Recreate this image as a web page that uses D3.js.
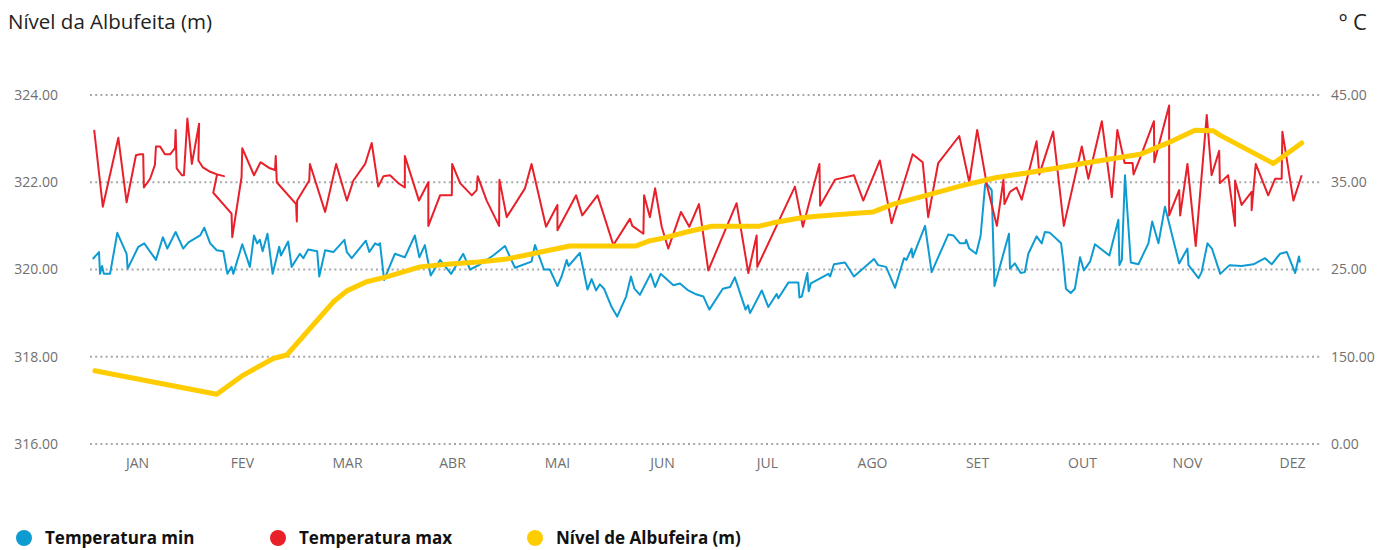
<!DOCTYPE html>
<html>
<head>
<meta charset="utf-8">
<script src="https://cdn.jsdelivr.net/npm/d3@7"></script>
<style>
  html, body { margin: 0; padding: 0; background: #fff; }
  svg { display: block; }
  text { font-family: "Open Sans", Lato, sans-serif; }
</style>
</head>
<body>
<div id="chart"></div>
<script>
// ---------- DATA ----------
const months = ["JAN","FEV","MAR","ABR","MAI","JUN","JUL","AGO","SET","OUT","NOV","DEZ"];
const leftTicks = [316, 318, 320, 322, 324];
const leftTickLabels = ["316.00","318.00","320.00","322.00","324.00"];
const rightTicks = [5, 15, 25, 35, 45];
const rightTickLabels = ["0.00","150.00","25.00","35.00","45.00"];

// Temperatura max: [day of year, °C]
const tempMax = [
[2.8,41.0],[5.3,32.2],[9.8,40.1],[12.2,32.7],[14.9,38.1],[16.1,38.2],[17.0,38.2],[17.2,34.4],[19.0,35.4],[20.4,37.0],
[20.7,39.1],[21.9,39.1],[23.3,38.2],[24.8,38.2],[26.2,38.9],[26.4,41.0],[26.7,36.6],[28.2,35.8],[28.8,35.8],[29.8,42.3],
[31.1,37.1],[33.2,41.7],[33.0,37.5],[34.3,36.7],[36.4,36.2],[38.4,35.9],[40.4,35.7],[38.4,35.9],[37.3,33.8],[42.6,31.4],
[42.8,28.7],[45.5,35.6],[45.7,38.9],[49.1,35.8],[51.0,37.3],[53.7,36.6],[55.2,36.4],[55.4,38.0],[55.7,35.0],[61.3,32.5],
[61.5,30.5],[61.6,32.9],[65.1,35.2],[65.3,37.1],[69.7,31.6],[72.9,37.1],[76.0,32.9],[77.9,35.2],[81.3,37.1],[83.2,39.5],
[85.1,34.5],[86.6,35.7],[88.5,35.8],[90.9,34.9],[92.8,34.4],[92.8,38.0],[96.9,32.9],[99.6,35.0],[99.6,30.0],[103.0,33.5],
[106.4,33.5],[106.5,37.1],[108.8,34.9],[112.2,33.5],[113.6,34.1],[113.9,35.7],[116.5,32.9],[120.1,30.0],[120.2,35.3],[122.3,31.0],
[127.6,34.3],[129.5,37.1],[133.7,29.9],[137.0,32.4],[137.0,29.5],[142.4,33.5],[144.2,31.2],[148.6,33.5],[153.2,27.8],[158.0,30.8],
[158.7,30.0],[161.9,29.1],[162.1,33.5],[163.8,31.0],[165.3,34.3],[167.2,29.9],[169.1,27.4],[172.8,31.6],[175.2,29.9],[178.0,32.5],
[180.7,24.9],[188.9,32.6],[192.3,24.6],[194.7,28.9],[194.9,25.3],[205.8,34.5],[208.1,29.9],[212.9,37.1],[213.1,32.3],[217.4,35.3],
[222.9,35.8],[225.6,32.9],[230.4,37.5],[233.8,30.3],[239.9,38.2],[242.8,37.3],[244.4,31.0],[247.3,37.2],[253.4,40.3],[256.3,35.0],
[258.6,41.0],[261.5,34.5],[264.3,30.0],[266.2,35.3],[266.5,32.5],[268.1,33.9],[270.0,34.4],[271.5,33.0],[275.8,39.7],[276.6,35.9],
[280.6,40.8],[283.7,30.0],[288.9,39.1],[290.8,35.4],[294.7,42.0],[297.6,33.3],[299.2,41.0],[301.3,37.2],[303.6,37.2],[303.9,35.9],
[305.8,37.8],[309.8,42.0],[309.9,37.3],[314.2,43.8],[314.2,31.2],[317.1,34.1],[317.4,31.2],[319.5,37.1],[321.9,27.7],[325.1,42.7],
[326.5,35.8],[328.7,38.6],[328.9,34.9],[331.3,35.8],[333.3,30.0],[333.3,35.2],[335.2,32.4],[338.1,33.9],[338.1,31.8],[339.3,37.1],
[342.9,33.5],[344.9,35.4],[346.8,35.4],[347.0,40.8],[350.2,32.9],[352.6,35.8]
];

// Temperatura min: [day of year, °C]
const tempMin = [
[2.4,26.2],[4.2,27.0],[4.5,24.5],[5.1,25.4],[5.6,24.5],[7.4,24.5],[9.5,29.2],[12.2,26.8],[12.5,25.1],[15.6,27.6],
[17.3,28.0],[20.7,26.1],[22.7,28.7],[24.0,27.4],[26.4,29.3],[28.6,27.4],[30.1,28.1],[33.5,28.9],[34.7,29.8],[36.4,28.0],
[38.3,27.2],[40.2,27.1],[41.4,24.5],[42.6,25.3],[43.1,24.5],[45.7,27.9],[47.9,25.3],[49.1,28.9],[50.0,28.0],[50.8,28.4],
[51.6,27.1],[53.0,29.1],[54.5,24.5],[56.4,27.6],[56.9,26.6],[59.0,28.2],[60.0,25.3],[62.4,26.8],[63.4,26.3],[64.8,27.3],
[67.4,27.1],[68.0,24.2],[69.7,27.2],[72.1,27.0],[75.3,28.4],[76.0,27.0],[77.4,26.3],[81.5,28.3],[82.5,27.0],[84.2,28.0],
[85.1,27.8],[85.6,28.0],[86.8,23.8],[89.9,26.8],[92.8,26.4],[95.7,28.9],[97.0,26.4],[98.6,27.8],[100.3,24.3],[103.0,26.1],
[106.2,24.5],[109.7,26.8],[111.7,25.0],[114.6,25.6],[118.4,26.6],[121.8,27.7],[124.7,25.2],[129.5,25.9],[130.5,27.8],[133.1,25.0],
[134.8,25.0],[137.0,23.1],[138.2,24.2],[139.7,26.1],[140.2,25.4],[143.5,26.9],[145.7,22.7],[146.9,23.9],[148.2,22.6],[149.3,23.3],
[150.5,22.8],[152.7,20.7],[154.3,19.6],[156.9,21.9],[158.3,24.2],[159.3,22.8],[160.9,22.1],[164.0,24.5],[165.3,23.0],[166.9,24.5],
[170.6,23.2],[172.5,23.4],[174.9,22.6],[176.9,22.2],[179.3,21.9],[181.0,20.4],[184.9,22.8],[187.0,23.0],[188.4,24.1],[191.5,20.4],
[192.2,20.9],[192.8,20.0],[196.2,22.6],[198.1,20.7],[200.5,22.2],[201.0,21.7],[203.9,23.5],[206.8,23.5],[207.1,21.8],[207.8,21.9],
[209.4,24.6],[209.8,22.5],[210.4,23.4],[215.5,24.5],[216.0,24.2],[217.1,25.6],[220.3,25.8],[222.9,24.2],[228.7,26.2],[229.9,25.5],
[232.2,25.3],[234.8,22.9],[237.4,26.3],[238.1,26.1],[239.6,27.4],[239.9,26.4],[243.5,30.0],[245.4,24.7],[250.2,29.0],[251.7,28.9],
[253.6,28.0],[255.1,28.0],[255.4,28.4],[256.3,27.4],[258.3,26.8],[259.6,28.9],[260.9,34.7],[261.2,34.9],[262.8,34.1],[263.6,23.1],
[267.8,29.1],[268.1,25.1],[269.5,25.7],[271.2,24.6],[272.4,24.7],[273.4,26.8],[275.8,28.8],[277.3,28.0],[278.2,29.3],[279.7,29.2],
[282.9,28.0],[283.5,26.1],[284.3,22.8],[285.7,22.3],[286.9,22.8],[288.4,26.4],[289.5,24.9],[291.3,25.9],[292.7,27.9],[296.9,26.6],
[299.5,30.7],[299.8,25.5],[300.5,26.1],[301.4,35.8],[303.1,25.8],[305.3,25.6],[308.2,28.0],[309.3,30.5],[311.1,28.0],[313.0,32.2],
[317.1,25.7],[319.5,27.4],[319.8,25.5],[322.7,24.0],[323.6,24.7],[325.3,28.0],[326.6,27.4],[329.0,24.5],[331.7,25.5],[335.2,25.4],
[338.6,25.6],[342.0,26.3],[343.9,25.6],[346.3,26.8],[348.3,27.0],[350.7,24.6],[351.8,26.5],[352.1,25.8]
];

// Nível de Albufeira: [day of year, m]
const nivel = [
[3.0,317.68],[38.3,317.14],[46.0,317.58],[54.7,317.96],[58.6,318.04],[72.1,319.26],[76.0,319.51],[81.7,319.72],[87.5,319.83],
[97.2,320.06],[104.9,320.12],[114.1,320.17],[122.3,320.24],[129.1,320.35],[140.6,320.54],[159.8,320.54],[163.8,320.66],[167.7,320.72],
[174.4,320.86],[181.7,320.99],[195.2,320.99],[199.5,321.07],[207.3,321.18],[212.1,321.22],[228.5,321.32],[234.3,321.50],[243.9,321.70],
[253.6,321.91],[264.2,322.11],[272.9,322.21],[282.6,322.34],[292.2,322.47],[305.8,322.64],[313.5,322.89],[321.7,323.19],[327.0,323.18],
[328.9,323.08],[344.4,322.43],[352.6,322.90]
];

const legendItems = [
  {label: "Temperatura min", color: "#0e9bd2"},
  {label: "Temperatura max", color: "#e8202a"},
  {label: "Nível de Albufeira (m)", color: "#ffcc00"}
];

// ---------- CHART ----------
const W = 1378, H = 550;
const svg = d3.select("#chart").append("svg").attr("width", W).attr("height", H);

const gridX0 = 90, gridX1 = 1320;
const x = d3.scaleLinear().domain([0, 365]).range([84.5, 1344.5]);
const yL = d3.scaleLinear().domain([316, 324]).range([444, 95]);
const yR = d3.scaleLinear().domain([5, 45]).range([444, 95]);
const axisFont = "'Open Sans', Lato, sans-serif";

// gridlines
svg.append("g").selectAll("line").data(leftTicks).join("line")
  .attr("x1", gridX0).attr("x2", gridX1)
  .attr("y1", d => yL(d)).attr("y2", d => yL(d))
  .attr("stroke", "#a9a9a9").attr("stroke-width", 2)
  .attr("stroke-dasharray", "2,3.2");

// left axis labels
const leftAxis = d3.axisLeft(yL).tickValues(leftTicks)
  .tickFormat((d, i) => leftTickLabels[i]).tickSize(0).tickPadding(0);
const gl = svg.append("g").attr("transform", "translate(58,0)").call(leftAxis);
gl.select(".domain").remove();
gl.selectAll("text").attr("fill", "#707070").style("font-size", "14px")
  .style("font-family", axisFont);

// right axis labels
const rightAxis = d3.axisRight(yR).tickValues(rightTicks)
  .tickFormat((d, i) => rightTickLabels[i]).tickSize(0).tickPadding(0);
const gr = svg.append("g").attr("transform", "translate(1331,0)").call(rightAxis);
gr.select(".domain").remove();
gr.selectAll("text").attr("fill", "#707070").style("font-size", "14px")
  .style("font-family", axisFont);

// month labels
const monthPos = months.map((m, i) => i * 365 / 12 + 365 / 24);
const bottomAxis = d3.axisBottom(x).tickValues(monthPos)
  .tickFormat((d, i) => months[i]).tickSize(0).tickPadding(0);
const gb = svg.append("g").attr("transform", "translate(0,458)").call(bottomAxis);
gb.select(".domain").remove();
gb.selectAll("text").attr("fill", "#707070").style("font-size", "14px")
  .style("font-family", axisFont);

// lines
const lineT = d3.line().x(d => x(d[0])).y(d => yR(d[1])).curve(d3.curveLinear);
const lineL = d3.line().x(d => x(d[0])).y(d => yL(d[1])).curve(d3.curveLinear);

svg.append("path").datum(tempMin).attr("d", lineT)
  .attr("fill", "none").attr("stroke", "#0e9bd2").attr("stroke-width", 2)
  .attr("stroke-linejoin", "round");
svg.append("path").datum(tempMax).attr("d", lineT)
  .attr("fill", "none").attr("stroke", "#e8202a").attr("stroke-width", 2)
  .attr("stroke-linejoin", "round");
svg.append("path").datum(nivel).attr("d", lineL)
  .attr("fill", "none").attr("stroke", "#ffcc00").attr("stroke-width", 5)
  .attr("stroke-linejoin", "round").attr("stroke-linecap", "round");

// titles
svg.append("text").attr("x", 8).attr("y", 29)
  .text("Nível da Albufeita (m)")
  .attr("fill", "#222").style("font-size", "20.5px");
svg.append("text").attr("x", 1339).attr("y", 30)
  .text("º C")
  .attr("fill", "#222").style("font-size", "22px");

// legend
const legX = [24, 278, 535];
const lg = svg.append("g").selectAll("g").data(legendItems).join("g")
  .attr("transform", (d, i) => `translate(${legX[i]},538)`);
lg.append("circle").attr("r", 8).attr("fill", d => d.color);
lg.append("text").attr("x", 21).attr("y", 6)
  .text(d => d.label).attr("fill", "#111")
  .style("font-size", "17px").style("font-weight", "bold");
</script>
</body>
</html>
